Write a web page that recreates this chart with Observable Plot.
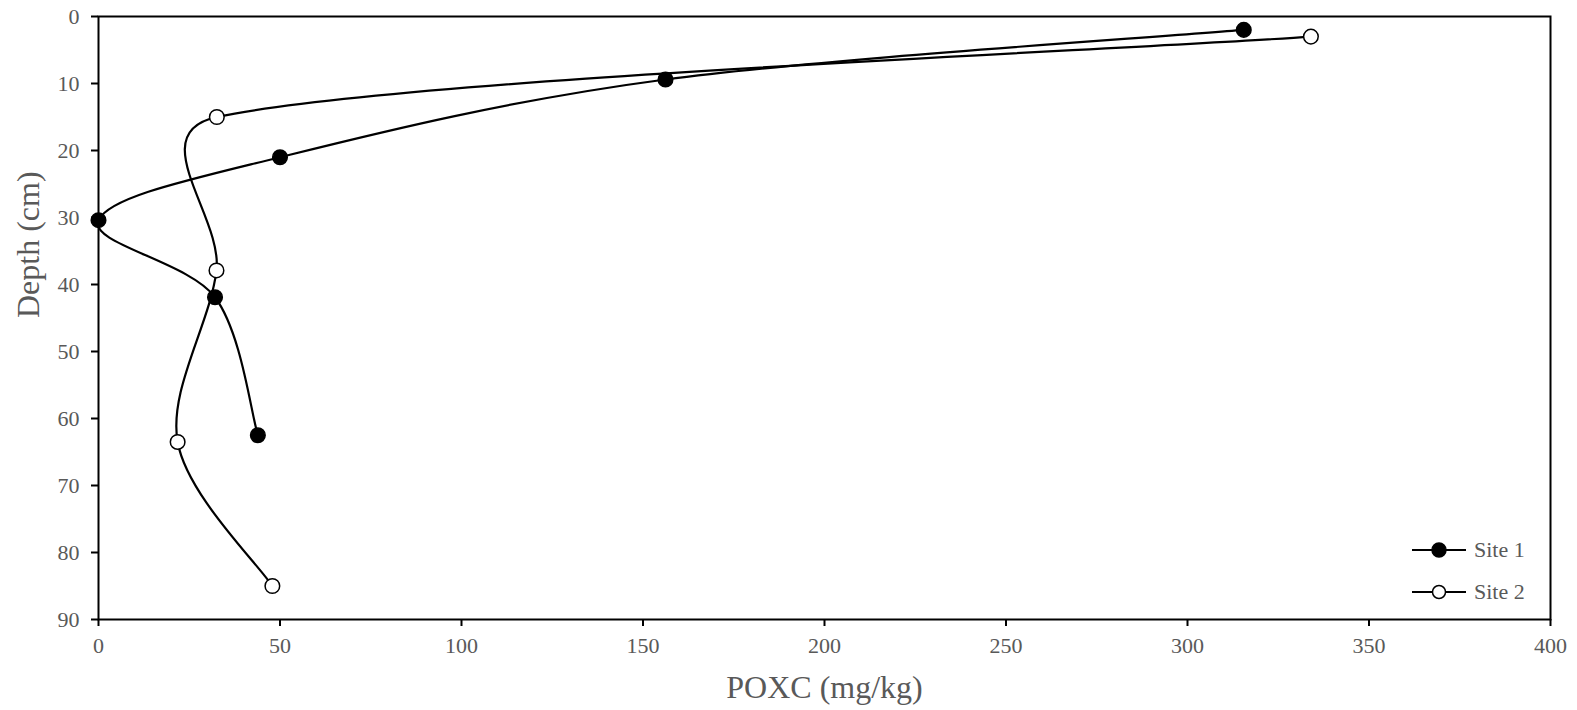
<!DOCTYPE html>
<html>
<head>
<meta charset="utf-8">
<script src="https://cdn.jsdelivr.net/npm/d3@7"></script>
<script src="https://cdn.jsdelivr.net/npm/@observablehq/plot@0.6"></script>
<style>
  html, body { margin: 0; padding: 0; background: #fff; }
  #wrap { position: relative; width: 1577px; height: 710px; font-family: "Liberation Serif", "Times New Roman", serif; }
  #legend { position: absolute; left: 1410px; top: 529px; }
  .lg-row { display: flex; align-items: center; height: 42px; color: #595959; font-size: 22px; }
  .lg-row svg { margin-right: 6px; }
</style>
</head>
<body>
<div id="wrap">
  <div id="chart"></div>
  <div id="legend"></div>
</div>
<script>
const sites = ["Site 1", "Site 2"];
const site1Poxc  = [315.5, 156.2, 50.0, 0.0, 32.1, 43.9];
const site1Depth = [2, 9.4, 21, 30.4, 41.9, 62.5];
const site2Poxc  = [334.0, 32.6, 32.5, 21.8, 47.9];
const site2Depth = [3, 15, 37.9, 63.5, 85];
const xTicks = [0, 50, 100, 150, 200, 250, 300, 350, 400];
const yTicks = [0, 10, 20, 30, 40, 50, 60, 70, 80, 90];

const data = [
  ...site1Poxc.map((v, i) => ({site: sites[0], poxc: v, depth: site1Depth[i]})),
  ...site2Poxc.map((v, i) => ({site: sites[1], poxc: v, depth: site2Depth[i]}))
];

// Spreadsheet-style smoothed line: Bezier segments, tangent arms = (P[i+1]-P[i-1])/6,
// each arm limited to half the length of the segment it belongs to.
function curveSmoothed(context) {
  let pts;
  const dist = (a, b) => Math.hypot(b[0] - a[0], b[1] - a[1]);
  return {
    areaStart() {}, areaEnd() {},
    lineStart() { pts = []; },
    point(x, y) { pts.push([+x, +y]); },
    lineEnd() {
      const n = pts.length;
      if (!n) return;
      context.moveTo(pts[0][0], pts[0][1]);
      if (n === 1) return;
      const arm = (i, lim) => {
        const p = pts[Math.max(0, i - 1)], q = pts[Math.min(n - 1, i + 1)];
        let tx = (q[0] - p[0]) / 6, ty = (q[1] - p[1]) / 6;
        const len = Math.hypot(tx, ty);
        if (len > lim && len > 0) { tx *= lim / len; ty *= lim / len; }
        return [tx, ty];
      };
      for (let i = 0; i < n - 1; i++) {
        const p = pts[i], q = pts[i + 1];
        const lim = dist(p, q) / 2;
        const a = arm(i, lim), b = arm(i + 1, lim);
        context.bezierCurveTo(p[0] + a[0], p[1] + a[1], q[0] - b[0], q[1] - b[1], q[0], q[1]);
      }
    }
  };
}

const gray = "#595959";
const chart = Plot.plot({
  width: 1577,
  height: 710,
  marginLeft: 98,
  marginRight: 27,
  marginTop: 16,
  marginBottom: 91,
  style: {fontFamily: "'Liberation Serif', 'Times New Roman', serif", background: "#fff", color: gray},
  x: {domain: [0, 400]},
  y: {domain: [0, 90], reverse: true},
  marks: [
    Plot.frame({stroke: "black", strokeWidth: 2}),
    Plot.axisX({ticks: xTicks, tickSize: 7, tickPadding: 11, fontSize: 22, label: null, stroke: "black", strokeWidth: 2, color: gray}),
    Plot.axisY({ticks: yTicks, tickSize: 7, tickPadding: 12, fontSize: 22, label: null, stroke: "black", strokeWidth: 2, color: gray}),
    Plot.text(["POXC (mg/kg)"], {frameAnchor: "bottom", dy: 78, fontSize: 32, fill: gray}),
    Plot.text(["Depth (cm)"], {frameAnchor: "left", rotate: -90, dx: -70, fontSize: 32, fill: gray}),
    Plot.line(data, {x: "poxc", y: "depth", z: "site", curve: curveSmoothed, stroke: "black", strokeWidth: 2.2}),
    Plot.dot(data, {x: "poxc", y: "depth", r: 7.3, stroke: "black", strokeWidth: 1.5,
      fill: d => d.site === sites[0] ? "black" : "white"})
  ]
});
document.getElementById("chart").appendChild(chart);

const legend = document.getElementById("legend");
sites.forEach((s, i) => {
  const row = document.createElement("div");
  row.className = "lg-row";
  const filled = i === 0;
  row.innerHTML = `<svg width="58" height="20"><line x1="2" y1="10" x2="56" y2="10" stroke="black" stroke-width="2.2"/>` +
    `<circle cx="29" cy="10" r="${filled ? 7 : 6.5}" fill="${filled ? "black" : "white"}" stroke="black" stroke-width="1.5"/></svg><span>${s}</span>`;
  legend.appendChild(row);
});
</script>
</body>
</html>
